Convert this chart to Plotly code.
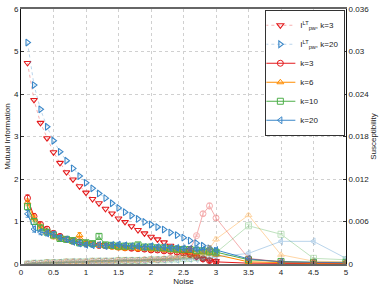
import plotly.graph_objects as go

# ---------------- data ----------------
x_pw = [round(0.1 * i, 1) for i in range(1, 31)]
pw_k3 = [4.73, 3.86, 3.32, 2.96, 2.63, 2.38, 2.16, 1.99, 1.83, 1.68,
         1.53, 1.43, 1.30, 1.19, 1.07, 0.99, 0.89, 0.80, 0.72, 0.64,
         0.58, 0.51, 0.43, 0.37, 0.30, 0.23, 0.17, 0.12, 0.09, 0.07]
pw_k20 = [5.21, 4.21, 3.64, 3.23, 2.90, 2.64, 2.43, 2.25, 2.07, 1.91,
          1.78, 1.66, 1.55, 1.43, 1.32, 1.22, 1.14, 1.06, 0.99, 0.93,
          0.87, 0.81, 0.74, 0.68, 0.62, 0.55, 0.49, 0.43, 0.37, 0.31]

x_k = [round(0.1 * i, 1) for i in range(1, 31)] + [3.5, 4.0, 4.5, 5.0]
mi_k3 = [1.55, 1.12, 0.93, 0.82, 0.72, 0.65, 0.58, 0.55, 0.52, 0.48,
         0.47, 0.44, 0.43, 0.42, 0.40, 0.38, 0.37, 0.36, 0.35, 0.33,
         0.33, 0.31, 0.30, 0.28, 0.26, 0.22, 0.18, 0.12, 0.08, 0.05,
         0.02, 0.01, 0.01, 0.01]
mi_k6 = [1.45, 1.08, 0.88, 0.75, 0.65, 0.60, 0.58, 0.52, 0.68, 0.50,
         0.47, 0.45, 0.42, 0.40, 0.38, 0.37, 0.40, 0.36, 0.38, 0.35,
         0.37, 0.34, 0.33, 0.32, 0.30, 0.30, 0.28, 0.28, 0.25, 0.22,
         0.05, 0.03, 0.02, 0.02]
mi_k10 = [1.35, 1.00, 0.85, 0.75, 0.68, 0.60, 0.58, 0.55, 0.50, 0.50,
          0.48, 0.65, 0.45, 0.44, 0.42, 0.42, 0.42, 0.45, 0.40, 0.40,
          0.38, 0.38, 0.36, 0.35, 0.34, 0.34, 0.32, 0.31, 0.30, 0.28,
          0.10, 0.06, 0.04, 0.04]
mi_k20 = [1.18, 0.82, 0.75, 0.72, 0.70, 0.62, 0.58, 0.52, 0.48, 0.45,
          0.44, 0.45, 0.42, 0.45, 0.46, 0.44, 0.42, 0.42, 0.40, 0.42,
          0.40, 0.40, 0.38, 0.38, 0.37, 0.36, 0.35, 0.34, 0.35, 0.33,
          0.12, 0.05, 0.04, 0.03]
mi_err = [0.08, 0.07, 0.06, 0.06, 0.06, 0.05, 0.05, 0.05, 0.06, 0.05,
          0.05, 0.06, 0.05, 0.05, 0.05, 0.05, 0.05, 0.05, 0.05, 0.05,
          0.05, 0.05, 0.05, 0.05, 0.05, 0.05, 0.04, 0.04, 0.04, 0.04,
          0.02, 0.02, 0.01, 0.01]

sus_k3 = [0.0000, 0.0001, 0.0001, 0.0002, 0.0002, 0.0002, 0.0003, 0.0003, 0.0003, 0.0003,
          0.0004, 0.0004, 0.0004, 0.0004, 0.0005, 0.0005, 0.0005, 0.0005, 0.0006, 0.0006,
          0.0006, 0.0007, 0.0008, 0.0010, 0.0013, 0.0020, 0.0040, 0.0071, 0.0082, 0.0065,
          0.0008, 0.0003, 0.0002, 0.0001]
sus_k6 = [0.0000, 0.0001, 0.0001, 0.0002, 0.0002, 0.0002, 0.0003, 0.0003, 0.0003, 0.0003,
          0.0004, 0.0004, 0.0004, 0.0004, 0.0005, 0.0005, 0.0005, 0.0005, 0.0006, 0.0006,
          0.0006, 0.0007, 0.0007, 0.0008, 0.0009, 0.0010, 0.0012, 0.0015, 0.0022, 0.0035,
          0.0069, 0.0013, 0.0004, 0.0003]
sus_k10 = [0.0000, 0.0001, 0.0001, 0.0002, 0.0002, 0.0002, 0.0003, 0.0003, 0.0003, 0.0003,
           0.0004, 0.0004, 0.0004, 0.0004, 0.0005, 0.0005, 0.0005, 0.0005, 0.0005, 0.0006,
           0.0006, 0.0006, 0.0007, 0.0007, 0.0008, 0.0008, 0.0009, 0.0010, 0.0012, 0.0016,
           0.0054, 0.0042, 0.0008, 0.0006]
sus_k20 = [0.0000, 0.0001, 0.0001, 0.0001, 0.0002, 0.0002, 0.0002, 0.0003, 0.0003, 0.0003,
           0.0003, 0.0004, 0.0004, 0.0004, 0.0004, 0.0005, 0.0005, 0.0005, 0.0005, 0.0005,
           0.0006, 0.0006, 0.0006, 0.0006, 0.0007, 0.0007, 0.0007, 0.0008, 0.0008, 0.0010,
           0.0015, 0.0032, 0.0032, 0.0008]
sus_err = [0.0001] * 27 + [0.0003, 0.0004, 0.0003, 0.0002, 0.0001, 0.0001, 0.0001]

x_ticks = [0, 0.5, 1, 1.5, 2, 2.5, 3, 3.5, 4, 4.5, 5]
x_ticklabels = ["0", "0.5", "1", "1.5", "2", "2.5", "3", "3.5", "4", "4.5", "5"]
y_ticks = [0, 1, 2, 3, 4, 5, 6]
y2_ticks = [0, 0.006, 0.012, 0.018, 0.024, 0.03, 0.036]
y2_ticklabels = ["0", "0.006", "0.012", "0.018", "0.024", "0.03", "0.036"]

RED = "#e41a1c"
BLUE = "#3a87c8"
ORANGE = "#ff8c00"
GREEN = "#4daf4a"

fig = go.Figure()

# susceptibility (faint, right axis)
for ys, col, sym in [(sus_k3, RED, "circle-open"), (sus_k6, ORANGE, "triangle-up-open"),
                     (sus_k10, GREEN, "square-open"), (sus_k20, BLUE, "triangle-left-open")]:
    fig.add_trace(go.Scatter(
        x=x_k, y=ys, yaxis="y2", mode="lines+markers", showlegend=False, opacity=0.35,
        line=dict(color=col, width=1),
        marker=dict(symbol=sym, size=6, color=col, line=dict(width=1)),
        error_y=dict(type="data", array=sus_err, color=col, thickness=0.8, width=2),
    ))

# pairwise MI (dotted)
fig.add_trace(go.Scatter(
    x=x_pw, y=pw_k3, mode="lines+markers", name="I<sup>LT</sup><sub>pw</sub>, k=3",
    line=dict(color="rgba(228,26,28,0.35)", width=1, dash="dot"),
    marker=dict(symbol="triangle-down-open", size=6, color=RED, line=dict(width=1.1)),
))
fig.add_trace(go.Scatter(
    x=x_pw, y=pw_k20, mode="lines+markers", name="I<sup>LT</sup><sub>pw</sub>, k=20",
    line=dict(color="rgba(58,135,200,0.35)", width=1, dash="dot"),
    marker=dict(symbol="triangle-right-open", size=6, color=BLUE, line=dict(width=1.1)),
))

# MI for k
for ys, col, sym, nm in [(mi_k3, RED, "circle-open", "k=3"), (mi_k6, ORANGE, "triangle-up-open", "k=6"),
                         (mi_k10, GREEN, "square-open", "k=10"), (mi_k20, BLUE, "triangle-left-open", "k=20")]:
    fig.add_trace(go.Scatter(
        x=x_k, y=ys, mode="lines+markers", name=nm,
        line=dict(color=col, width=1),
        marker=dict(symbol=sym, size=6, color=col, line=dict(width=1)),
        error_y=dict(type="data", array=mi_err, color=col, thickness=0.8, width=2),
    ))

axis_font = dict(family="Liberation Sans, Arial, sans-serif", size=8, color="#222")

fig.update_layout(
    width=382, height=287,
    margin=dict(l=21, r=36, t=9, b=23, autoexpand=False),
    paper_bgcolor="white", plot_bgcolor="white",
    font=axis_font,
    xaxis=dict(range=[0, 5], tickvals=x_ticks, ticktext=x_ticklabels, automargin=False,
               showgrid=True, gridcolor="#d0d0d0", griddash="dot", gridwidth=1,
               showline=True, linecolor="#666", linewidth=1.5, mirror=True,
               ticks="inside", ticklen=3, tickcolor="#333", zeroline=False,
               title=dict(text="Noise", font=dict(size=8), standoff=1),
               tickfont=dict(size=8)),
    yaxis=dict(range=[0, 6], tickvals=y_ticks, automargin=False,
               showgrid=True, gridcolor="#d0d0d0", griddash="dot", gridwidth=1,
               showline=True, linecolor="#111", linewidth=1,
               ticks="inside", ticklen=3, tickcolor="#333", zeroline=False,
               title=dict(text="Mutual Information", font=dict(size=8), standoff=2),
               tickfont=dict(size=8)),
    yaxis2=dict(range=[0, 0.036], tickvals=y2_ticks, ticktext=y2_ticklabels, automargin=False,
                overlaying="y", side="right", showgrid=False,
                showline=True, linecolor="#111", linewidth=1,
                ticks="inside", ticklen=3, tickcolor="#333", zeroline=False,
                title=dict(text="Susceptibility", font=dict(size=8), standoff=2),
                tickfont=dict(size=8)),
    legend=dict(x=0.998, y=0.997, xanchor="right", yanchor="top",
                bgcolor="white", bordercolor="#333", borderwidth=1,
                font=dict(size=8), itemwidth=30, tracegroupgap=0,
                indentation=-6),
    showlegend=True,
)

fig.write_html("out.html", config={"displayModeBar": False},
               post_script="document.body.style.margin='0';document.body.style.overflow='hidden';")
